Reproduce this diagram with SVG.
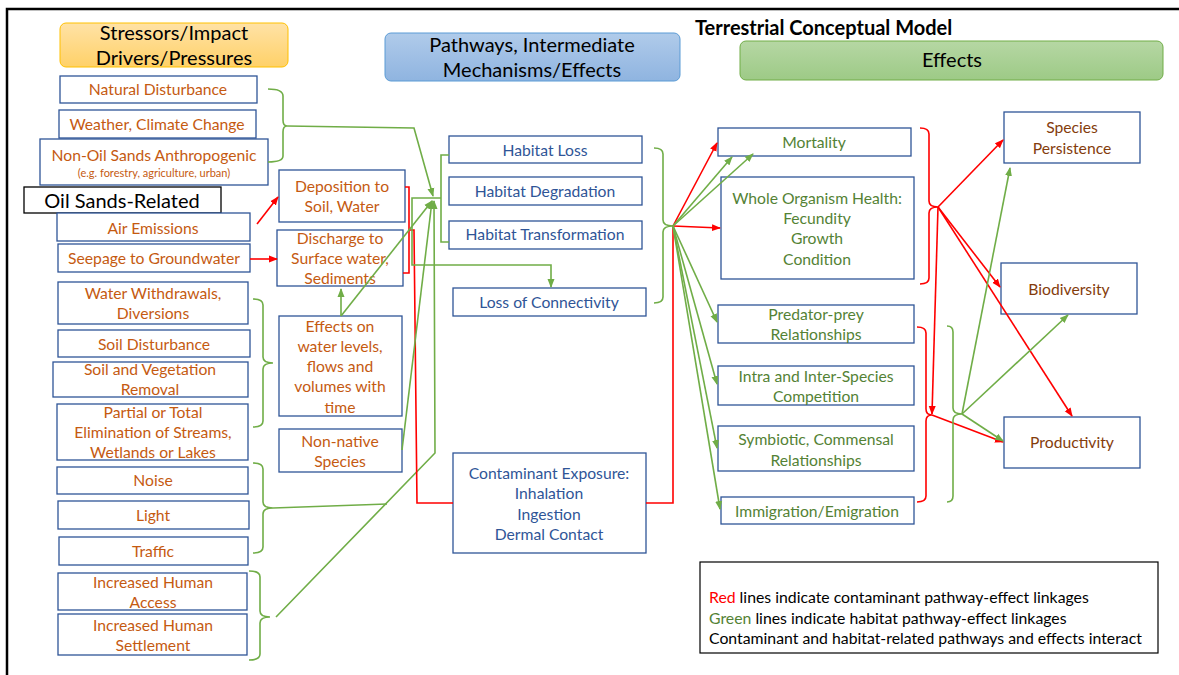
<svg xmlns="http://www.w3.org/2000/svg" width="1179" height="675" viewBox="0 0 1179 675">
<defs>
<style>
.box{fill:#fff;stroke:#2F5597;stroke-width:1.3}
.t{font-family:Lato,'Liberation Sans',sans-serif;font-size:15.7px;text-anchor:middle}
.h{font-family:Lato,'Liberation Sans',sans-serif;font-size:20px;text-anchor:middle;fill:#000}
.or{fill:#C55A11}.bl{fill:#2F5597}.gr{fill:#548235}.br{fill:#843C0C}
.g{fill:none;stroke:#70AD47;stroke-width:1.6}
.r{fill:none;stroke:#FF0000;stroke-width:1.6}
.lg{font-family:Lato,'Liberation Sans',sans-serif;font-size:15.8px;fill:#000}
</style>
<linearGradient id="gO" x1="0" y1="0" x2="0" y2="1"><stop offset="0" stop-color="#FFE2A6"/><stop offset="1" stop-color="#FFD168"/></linearGradient>
<linearGradient id="gB" x1="0" y1="0" x2="0" y2="1"><stop offset="0" stop-color="#B0CBEA"/><stop offset="1" stop-color="#8FB4E0"/></linearGradient>
<linearGradient id="gG" x1="0" y1="0" x2="0" y2="1"><stop offset="0" stop-color="#B6D7A4"/><stop offset="1" stop-color="#9DCA86"/></linearGradient>
<marker id="ag" markerWidth="9" markerHeight="8" refX="8" refY="4" orient="auto" markerUnits="userSpaceOnUse"><path d="M0,0.5 L9,4 L0,7.5 z" fill="#70AD47"/></marker>
<marker id="ar" markerWidth="9" markerHeight="8" refX="8" refY="4" orient="auto" markerUnits="userSpaceOnUse"><path d="M0,0.5 L9,4 L0,7.5 z" fill="#FF0000"/></marker>
</defs>
<rect x="0" y="0" width="1179" height="675" fill="#fff"/>
<path d="M7,675 V9 H1179" stroke="#000" stroke-width="2.5" fill="none"/>

<g id="headers">
<rect x="60" y="23" width="228" height="44" rx="6" fill="url(#gO)" stroke="#FFC000" stroke-width="1"/>
<text class="h" x="174" y="40">Stressors/Impact</text>
<text class="h" x="174" y="65">Drivers/Pressures</text>
<rect x="385" y="33" width="295" height="48" rx="6" fill="url(#gB)" stroke="#5B9BD5" stroke-width="1"/>
<text class="h" x="532" y="52">Pathways, Intermediate</text>
<text class="h" x="532" y="77">Mechanisms/Effects</text>
<text x="695" y="35" style="font-family:Lato,'Liberation Sans',sans-serif;font-size:20px;font-weight:bold;fill:#000">Terrestrial Conceptual Model</text>
<rect x="740" y="41" width="423" height="39" rx="6" fill="url(#gG)" stroke="#70AD47" stroke-width="1"/>
<text class="h" x="952" y="67">Effects</text>
</g>

<g id="n-natural"><rect class="box" x="60" y="76" width="197" height="27"/><text class="t or" x="158" y="95">Natural Disturbance</text></g>
<g id="n-weather"><rect class="box" x="59" y="110" width="197" height="28"/><text class="t or" x="157" y="130">Weather, Climate Change</text></g>
<g id="n-nonoil"><rect class="box" x="40" y="139" width="228" height="46"/><text class="t or" x="154" y="161">Non-Oil Sands Anthropogenic</text><text class="t or" x="154" y="177" style="font-size:11px">(e.g. forestry, agriculture, urban)</text></g>
<g id="n-oilsands"><rect x="24" y="187" width="197" height="26" fill="#fff" stroke="#000" stroke-width="1.3"/><text x="122" y="208" style="font-family:Lato,'Liberation Sans',sans-serif;font-size:20px;text-anchor:middle;fill:#000">Oil Sands-Related</text></g>
<g id="n-air"><rect class="box" x="57" y="213" width="193" height="28"/><text class="t or" x="153" y="234">Air Emissions</text></g>
<g id="n-seepage"><rect class="box" x="58" y="244" width="192" height="28"/><text class="t or" x="154" y="264">Seepage to Groundwater</text></g>
<g id="n-water"><rect class="box" x="58" y="282" width="190" height="42"/><text class="t or" x="153" y="299">Water Withdrawals,</text><text class="t or" x="153" y="319">Diversions</text></g>
<g id="n-soil"><rect class="box" x="58" y="330" width="192" height="27"/><text class="t or" x="154" y="350">Soil Disturbance</text></g>
<g id="n-veg"><rect class="box" x="53" y="362" width="195" height="35"/><text class="t or" x="150" y="375">Soil and Vegetation</text><text class="t or" x="150" y="395">Removal</text></g>
<g id="n-partial"><rect class="box" x="57" y="404" width="191" height="56"/><text class="t or" x="153" y="418">Partial or Total</text><text class="t or" x="153" y="438">Elimination of Streams,</text><text class="t or" x="153" y="458">Wetlands or Lakes</text></g>
<g id="n-noise"><rect class="box" x="57" y="467" width="191" height="27"/><text class="t or" x="153" y="486">Noise</text></g>
<g id="n-light"><rect class="box" x="58" y="501" width="191" height="28"/><text class="t or" x="153" y="521">Light</text></g>
<g id="n-traffic"><rect class="box" x="59" y="537" width="189" height="28"/><text class="t or" x="153" y="557">Traffic</text></g>
<g id="n-access"><rect class="box" x="58" y="573" width="189" height="37"/><text class="t or" x="153" y="588">Increased Human</text><text class="t or" x="153" y="608">Access</text></g>
<g id="n-settle"><rect class="box" x="58" y="614" width="189" height="41"/><text class="t or" x="153" y="631">Increased Human</text><text class="t or" x="153" y="651">Settlement</text></g>

<g id="n-deposition"><rect class="box" x="279" y="170" width="126" height="52"/><text class="t or" x="342" y="192">Deposition to</text><text class="t or" x="342" y="212">Soil, Water</text></g>
<g id="n-discharge"><rect class="box" x="277" y="230" width="126" height="56"/><text class="t or" x="340" y="244">Discharge to</text><text class="t or" x="340" y="264">Surface water,</text><text class="t or" x="340" y="284">Sediments</text></g>
<g id="n-effwater"><rect class="box" x="279" y="316" width="123" height="100"/><text class="t or" x="340" y="332">Effects on</text><text class="t or" x="340" y="352">water levels,</text><text class="t or" x="340" y="372">flows and</text><text class="t or" x="340" y="392">volumes with</text><text class="t or" x="340" y="413">time</text></g>
<g id="n-nonnative"><rect class="box" x="279" y="429" width="123" height="43"/><text class="t or" x="340" y="447">Non-native</text><text class="t or" x="340" y="467">Species</text></g>

<g id="n-hloss"><rect class="box" x="449" y="136" width="193" height="27"/><text class="t bl" x="545" y="156">Habitat Loss</text></g>
<g id="n-hdeg"><rect class="box" x="449" y="177" width="193" height="28"/><text class="t bl" x="545" y="197">Habitat Degradation</text></g>
<g id="n-htrans"><rect class="box" x="449" y="221" width="193" height="28"/><text class="t bl" x="545" y="240">Habitat Transformation</text></g>
<g id="n-conn"><rect class="box" x="453" y="288" width="193" height="28"/><text class="t bl" x="549" y="308">Loss of Connectivity</text></g>
<g id="n-contam"><rect class="box" x="453" y="453" width="193" height="100"/><text class="t bl" x="549" y="479">Contaminant Exposure:</text><text class="t bl" x="549" y="499">Inhalation</text><text class="t bl" x="549" y="520">Ingestion</text><text class="t bl" x="549" y="540">Dermal Contact</text></g>

<g id="n-mort"><rect class="box" x="718" y="128" width="193" height="28"/><text class="t gr" x="814" y="148">Mortality</text></g>
<g id="n-whole"><rect class="box" x="721" y="177" width="193" height="102"/><text class="t gr" x="817" y="204">Whole Organism Health:</text><text class="t gr" x="817" y="224">Fecundity</text><text class="t gr" x="817" y="244">Growth</text><text class="t gr" x="817" y="265">Condition</text></g>
<g id="n-pred"><rect class="box" x="718" y="305" width="196" height="38"/><text class="t gr" x="816" y="320">Predator-prey</text><text class="t gr" x="816" y="340">Relationships</text></g>
<g id="n-intra"><rect class="box" x="718" y="366" width="196" height="39"/><text class="t gr" x="816" y="382">Intra and Inter-Species</text><text class="t gr" x="816" y="402">Competition</text></g>
<g id="n-symb"><rect class="box" x="718" y="426" width="196" height="45"/><text class="t gr" x="816" y="445">Symbiotic, Commensal</text><text class="t gr" x="816" y="466">Relationships</text></g>
<g id="n-immig"><rect class="box" x="721" y="497" width="193" height="27"/><text class="t gr" x="817" y="517">Immigration/Emigration</text></g>

<g id="n-species"><rect class="box" x="1004" y="112" width="136" height="51"/><text class="t br" x="1072" y="133">Species</text><text class="t br" x="1072" y="154">Persistence</text></g>
<g id="n-biodiv"><rect class="box" x="1001" y="263" width="136" height="51"/><text class="t br" x="1069" y="295">Biodiversity</text></g>
<g id="n-prod"><rect class="box" x="1004" y="417" width="136" height="51"/><text class="t br" x="1072" y="448">Productivity</text></g>

<g id="connectors">
<path class="g" d="M268,89 Q283,89 283,96 V120 Q283,126 287,126 Q283,126 283,132 V156 Q283,162 268,162"/>
<path class="g" d="M287,126 L414,128 L433,196" marker-end="url(#ag)"/>
<path class="g" d="M253,299 Q263,299 263,305 V357 Q263,363 273,363 Q263,363 263,369 V421 Q263,427 253,427"/>
<path class="g" d="M253,463 Q263,463 263,469 V502 Q263,508 273,508 Q263,508 263,514 V547 Q263,553 253,553"/>
<path class="g" d="M273,508 L387,504"/>
<path class="g" d="M249,571 Q260,571 260,577 V611 Q260,617 270,617 Q260,617 260,623 V654 Q260,660 249,660"/>
<path class="g" d="M276,617 L435,453 L434,201" marker-end="url(#ag)"/>
<path class="r" d="M257,224 L278,197" marker-end="url(#ar)"/>
<path class="r" d="M250,259 L277,259" marker-end="url(#ar)"/>
<path class="r" d="M405,187 H409 V273 H403"/>
<path class="r" d="M409,230 H414 L417,503 H453"/>
<path class="g" d="M341,316 V289" marker-end="url(#ag)"/>
<path class="g" d="M341,316 L432,201" marker-end="url(#ag)"/>
<path class="g" d="M402,450 L432,201" marker-end="url(#ag)"/>
<path class="g" d="M449,155 H441 V242 H449"/>
<path class="g" d="M441,198 H412 V265 H551 V287" marker-end="url(#ag)"/>
<path class="g" d="M654,148 Q663,148 663,154 V220 Q663,226 673,226 Q663,226 663,232 V297 Q663,303 654,303"/>
<path class="r" d="M646,503 H673 V226"/>
<path class="r" d="M673,226 L717,143" marker-end="url(#ar)"/>
<path class="r" d="M673,226 L720,228" marker-end="url(#ar)"/>
<path class="g" d="M673,226 L732,157" marker-end="url(#ag)"/>
<path class="g" d="M673,226 L753,154" marker-end="url(#ag)"/>
<path class="g" d="M673,226 L717,322" marker-end="url(#ag)"/>
<path class="g" d="M673,226 L717,384" marker-end="url(#ag)"/>
<path class="g" d="M673,226 L717,448" marker-end="url(#ag)"/>
<path class="g" d="M673,226 L720,509" marker-end="url(#ag)"/>
<path class="r" d="M920,128 Q929,128 929,134 V201 Q929,207 938,207 Q929,207 929,213 V278 Q929,284 920,284"/>
<path class="r" d="M938,207 L1003,140" marker-end="url(#ar)"/>
<path class="r" d="M938,207 L1000,287" marker-end="url(#ar)"/>
<path class="r" d="M938,207 L1072,416" marker-end="url(#ar)"/>
<path class="r" d="M938,207 L932,414" marker-end="url(#ar)"/>
<path class="r" d="M917,327 Q926,327 926,333 V409 Q926,415 932,415 Q926,415 926,421 V496 Q926,502 917,502"/>
<path class="r" d="M932,415 L1003,442" marker-end="url(#ar)"/>
<path class="g" d="M947,326 Q953,326 953,332 V408 Q953,414 962,414 Q953,414 953,420 V496 Q953,502 947,502"/>
<path class="g" d="M962,414 L1010,168" marker-end="url(#ag)"/>
<path class="g" d="M962,414 L1068,315" marker-end="url(#ag)"/>
<path class="g" d="M962,414 L1003,441" marker-end="url(#ag)"/>
</g>

<g id="legend"><rect x="700" y="562" width="458" height="91" fill="#fff" stroke="#000" stroke-width="1.2"/>
<text class="lg" x="709" y="603"><tspan fill="#FF0000">Red</tspan> lines indicate contaminant pathway-effect linkages</text>
<text class="lg" x="709" y="624"><tspan fill="#548235">Green</tspan> lines indicate habitat pathway-effect linkages</text>
<text class="lg" x="709" y="644">Contaminant and habitat-related pathways and effects interact</text>
</g>
</svg>
